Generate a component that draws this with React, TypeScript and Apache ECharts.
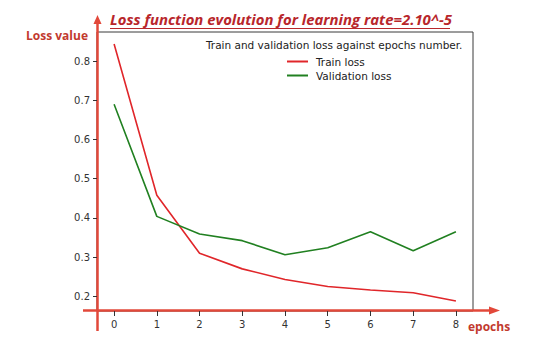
import React, { useEffect, useRef } from "react";
import * as echarts from "echarts";

const epochs = [0, 1, 2, 3, 4, 5, 6, 7, 8];
const trainLoss = [0.844, 0.458, 0.31, 0.27, 0.243, 0.225, 0.216, 0.209, 0.188];
const valLoss = [0.69, 0.404, 0.359, 0.342, 0.306, 0.324, 0.365, 0.316, 0.365];
const yTicks = [0.2, 0.3, 0.4, 0.5, 0.6, 0.7, 0.8];
const xTicks = [0, 1, 2, 3, 4, 5, 6, 7, 8];

const ANNOT = "#e2483a";
const TITLE_RED = "#b8262b";

export default function App() {
  const ref = useRef<HTMLDivElement>(null);
  useEffect(() => {
    if (!ref.current) return;
    const chart = echarts.init(ref.current, null, { renderer: "svg" });
    const font = "DejaVu Sans";
    chart.setOption({
      animation: false,
      backgroundColor: "#ffffff",
      grid: {
        left: 97,
        right: 67,
        top: 32,
        bottom: 40,
        show: true,
        borderColor: "#3a3a3a",
        borderWidth: 1,
        backgroundColor: "transparent",
      },
      xAxis: {
        type: "value",
        min: -0.4,
        max: 8.4,
        splitLine: { show: false },
        axisLine: { show: false, onZero: false },
        axisTick: {
          show: true,
          customValues: xTicks,
          length: 5,
          lineStyle: { color: "#333" },
        },
        axisLabel: {
          customValues: xTicks,
          color: "#333",
          fontFamily: font,
          fontSize: 10,
          margin: 8,
        },
      },
      yAxis: {
        type: "value",
        min: 0.1625,
        max: 0.8745,
        splitLine: { show: false },
        axisLine: { show: false, onZero: false },
        axisTick: {
          show: true,
          customValues: yTicks,
          length: 4,
          lineStyle: { color: "#333" },
        },
        axisLabel: {
          customValues: yTicks,
          color: "#333",
          fontFamily: font,
          fontSize: 10,
          margin: 7,
          formatter: (v: number) => v.toFixed(1),
        },
      },
      legend: {
        orient: "vertical",
        left: 282,
        top: 51,
        icon: "rect",
        itemWidth: 21,
        itemHeight: 2,
        itemGap: 3,
        textStyle: { fontFamily: font, fontSize: 10.5, color: "#222", padding: [0, 0, 0, 3] },
        data: ["Train loss", "Validation loss"],
      },
      series: [
        {
          name: "Train loss",
          type: "line",
          data: epochs.map((e, i) => [e, trainLoss[i]]),
          symbol: "none",
          lineStyle: { color: "#e0262a", width: 1.6 },
          itemStyle: { color: "#e0262a" },
        },
        {
          name: "Validation loss",
          type: "line",
          data: epochs.map((e, i) => [e, valLoss[i]]),
          symbol: "none",
          lineStyle: { color: "#218021", width: 1.6 },
          itemStyle: { color: "#218021" },
        },
      ],
      graphic: [
        {
          type: "text",
          left: 206,
          top: 39,
          style: {
            text: "Train and validation loss against epochs number.",
            fontFamily: font,
            fontSize: 10.5,
            fill: "#222",
          },
        },
        {
          type: "text",
          left: 110,
          top: 11,
          style: {
            text: "Loss function evolution for learning rate=2.10^-5",
            fontFamily: "Open Sans",
            fontWeight: "bold",
            fontStyle: "italic",
            fontSize: 14.9,
            fill: TITLE_RED,
          },
        },
        {
          type: "line",
          shape: { x1: 110, y1: 28.5, x2: 450, y2: 28.5 },
          style: { stroke: TITLE_RED, lineWidth: 1.2 },
          z: 10,
        },
        {
          type: "text",
          left: 26,
          top: 29,
          style: {
            text: "Loss value",
            fontFamily: "Open Sans",
            fontWeight: "bold",
            fontSize: 12,
            fill: "#c23a2e",
          },
        },
        {
          type: "text",
          left: 468,
          top: 320,
          style: {
            text: "epochs",
            fontFamily: "Open Sans",
            fontWeight: "bold",
            fontSize: 12,
            fill: "#c23a2e",
          },
        },
        {
          type: "line",
          shape: { x1: 97.5, y1: 22, x2: 97.5, y2: 331 },
          style: { stroke: ANNOT, lineWidth: 2.5 },
        },
        {
          type: "polygon",
          shape: { points: [[97.5, 15], [93.5, 24], [101.5, 24]] },
          style: { fill: ANNOT },
        },
        {
          type: "line",
          shape: { x1: 83, y1: 310.5, x2: 492, y2: 310.5 },
          style: { stroke: ANNOT, lineWidth: 2.5 },
        },
        {
          type: "polygon",
          shape: { points: [[500, 310.5], [489, 306.5], [489, 314.5]] },
          style: { fill: ANNOT },
        },
      ],
    });
    return () => chart.dispose();
  }, []);
  return (
    <div
      ref={ref}
      style={{ position: "fixed", left: 0, top: 0, width: 540, height: 351, background: "#fff" }}
    />
  );
}
